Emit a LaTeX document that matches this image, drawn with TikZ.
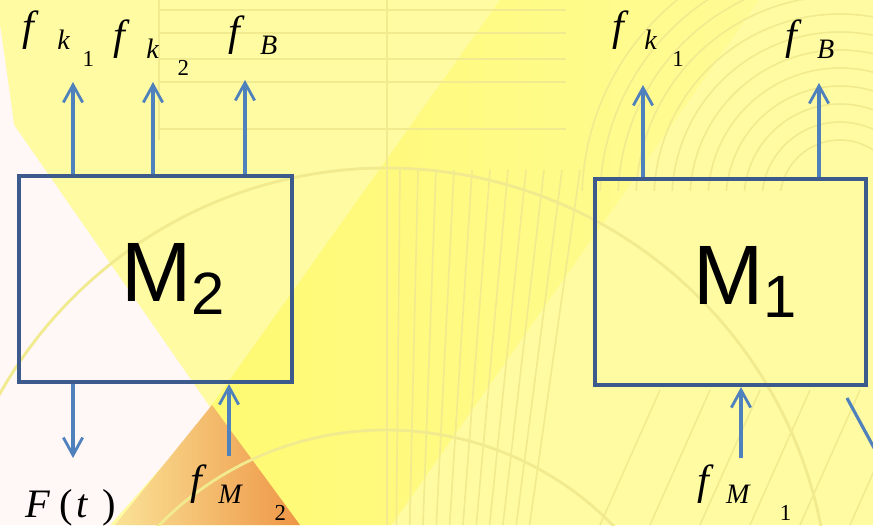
\documentclass[tikz,border=0pt]{standalone}
\usepackage{fontspec}
\setmainfont{Liberation Serif}
\newfontfamily\arialfont{Liberation Sans}
\usepackage{tikz}
\usetikzlibrary{arrows.meta, positioning}

\definecolor{paleyellow}{RGB}{255,251,162}
\definecolor{brightyellow}{RGB}{255,250,100}
\definecolor{gridline}{RGB}{241,234,142}
\definecolor{boxblue}{RGB}{60,90,140}
\definecolor{arrowblue}{RGB}{79,129,189}
\definecolor{paleorange}{RGB}{250,226,150}
\definecolor{deeporange}{RGB}{238,150,70}
\definecolor{offwhite}{RGB}{255,248,246}

% f with subscript and lowered index
\newcommand{\flab}[4]{{\fontsize{24}{24}\selectfont\textit{f}}\hspace{#1}\raisebox{-5.5pt}{\fontsize{16}{16}\selectfont\textit{#2}}\hspace{#3}\raisebox{-15.3pt}{\fontsize{13}{13}\selectfont #4}}
% mass label
\newcommand{\mlab}[1]{{\arialfont\fontsize{48}{48}\selectfont M\raisebox{-7.5pt}{\fontsize{34}{34}\selectfont #1}}}

\begin{document}
\begin{tikzpicture}[x=0.02cm, y=-0.02cm,
  box/.style={draw=boxblue, line width=2.4pt, inner sep=0pt, minimum height=4.12cm},
  sig/.style={draw=arrowblue, line width=1.8pt, -{Straight Barb[length=10pt, width=11pt, line width=1.6pt]}},
  grid/.style={draw=gridline, line width=0.9pt},
  lab/.style={anchor=base west, inner sep=0pt}]
  \useasboundingbox (0,0) rectangle (873,525);

  % Background
  \begin{scope}
    \clip (0,0) rectangle (873,525);
    \fill[paleyellow] (0,0) rectangle (873,525);
    \begin{scope}
      \clip (500,0) -- (873,0) -- (873,525) -- (120,525) -- (214,402) -- cycle;
      \shade[left color=brightyellow, right color=paleyellow, rotate around={-35:(214,402)}]
        (214,-600) rectangle (430,800);
    \end{scope}
    \fill[offwhite] (0,25) .. controls (8,80) .. (14,125) -- (212,410) -- (110,525) -- (0,525) -- cycle;
    \shade[left color=paleorange, right color=deeporange] (212,405) -- (300,525) -- (115,525) -- cycle;
    % faint drawing lines
    \foreach \y in {10,33,59,82,129}
      \draw[grid] (160,\y) -- (566,\y);
    \draw[grid] (387,0) -- (387,525);
    \draw[grid] (159,0) -- (159,140);
    \draw[grid, line width=1.6pt] (386,611) circle[radius=443];
    \draw[grid, line width=1.6pt] (386,748) circle[radius=318];
    \foreach \x in {400,418,...,580}
      \draw[grid] (\x,170) -- ({386+(\x-386)*0.74},525);
    \foreach \x in {600,650,...,850}
      \draw[grid] (\x,525) -- (\x+60,390);
    \begin{scope}
      \clip (560,0) rectangle (873,190);
      \foreach \r in {60,78,...,260}
        \draw[grid] (840,200) circle[radius=\r];
    \end{scope}
  \end{scope}

  % Boxes
  \node (m2) [box, minimum width=5.46cm] at (155.5,279) {};
  \node (m1) [box, minimum width=5.42cm] at (730.5,282) {};
  \node (m2txt) [inner sep=0pt] at ([xshift=0.35cm]m2.center) {\mlab{2}};
  \node (m1txt) [inner sep=0pt] at ([xshift=0.29cm]m1.center) {\mlab{1}};

  % Arrow ends
  \coordinate (k1a) at (73,82);
  \coordinate (k2a) at (153,82);
  \coordinate (ba) at (245,80);
  \coordinate (fa) at (73,458);
  \coordinate (ma) at (229,456);
  \coordinate (k1b) at (643,85);
  \coordinate (bb) at (819,83);
  \coordinate (mb) at (741,458);
  \coordinate (d1) at (847,398);
  \coordinate (d2) at (905,505);

  % M2 signals
  \draw[sig] (m2.north -| k1a) -- (k1a);
  \draw[sig] (m2.north -| k2a) -- (k2a);
  \draw[sig] (m2.north -| ba) -- (ba);
  \draw[sig] (m2.south -| fa) -- (fa);
  \draw[sig] (ma) -- (m2.south -| ma);

  % M1 signals
  \draw[sig] (m1.north -| k1b) -- (k1b);
  \draw[sig] (m1.north -| bb) -- (bb);
  \draw[sig] (mb) -- (m1.south -| mb);
  \draw[arrowblue, line width=1.8pt] (d1) -- (d2);

  % Labels
  \node (lk1a) [lab] at (22,40) {\flab{10.5pt}{k}{7pt}{1}};
  \node (lk2a) [lab] at (113,49) {\flab{9.3pt}{k}{10.5pt}{2}};
  \node (lba) [lab] at (228,45) {\flab{8.7pt}{B}{0pt}{}};
  \node (lft) [lab] at (25,517) {\fontsize{23}{23}\selectfont\textit{F}\hspace{5pt}(\hspace{2pt}\textit{t}\hspace{8pt})};
  \node (lma) [lab] at (190,494) {\flab{6.5pt}{M}{18pt}{2}};
  \node (lk1b) [lab] at (612,40) {\flab{8.8pt}{k}{8.6pt}{1}};
  \node (lbb) [lab] at (785,49) {\flab{8.7pt}{B}{0pt}{}};
  \node (lmb) [lab] at (697,494) {\flab{7pt}{M}{16.5pt}{1}};
\end{tikzpicture}
\end{document}
